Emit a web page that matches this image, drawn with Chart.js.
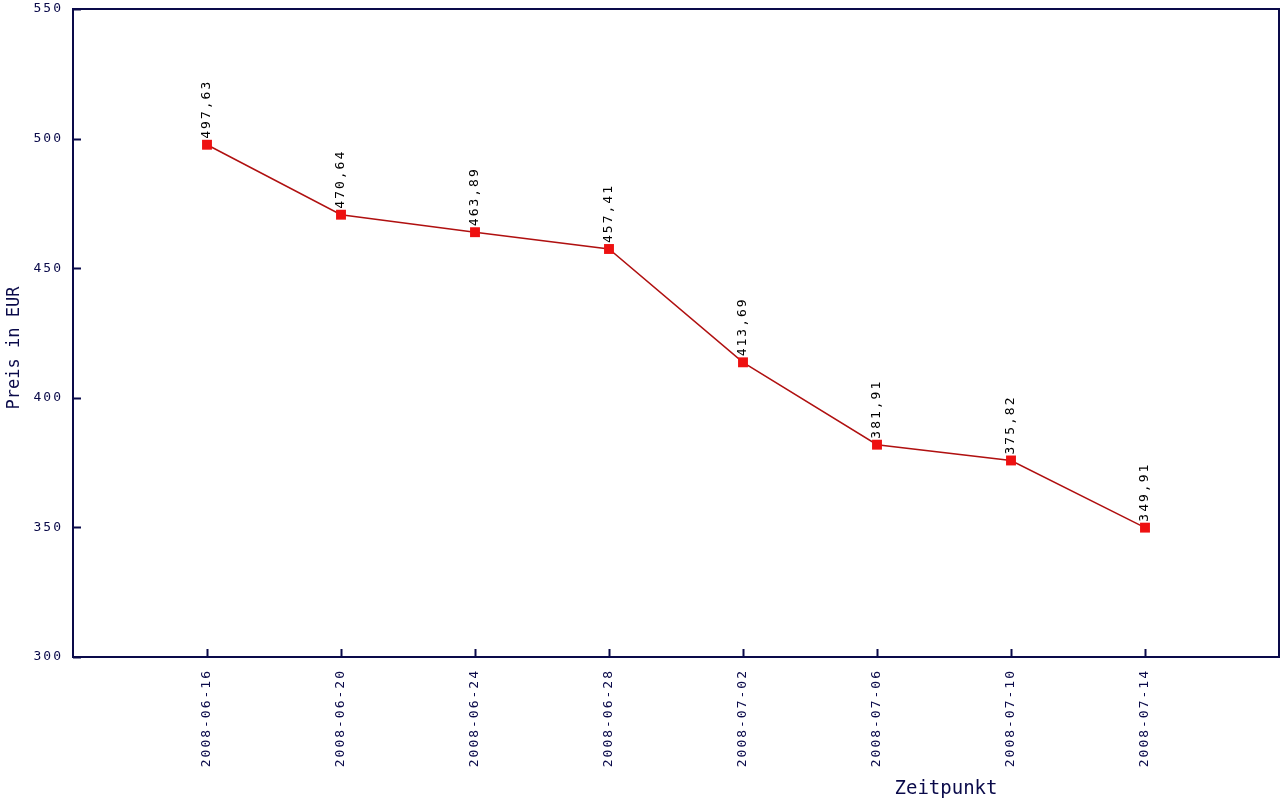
<!DOCTYPE html>
<html>
<head>
<meta charset="utf-8">
<script src="https://cdn.jsdelivr.net/npm/chart.js@4/dist/chart.umd.min.js"></script>
<style>
  html, body { margin: 0; padding: 0; background: #fff; }
  #wrap { width: 1280px; height: 800px; }
</style>
</head>
<body>
<div id="wrap"><canvas id="priceChart" width="1280" height="800"></canvas></div>
<script>
const dates = ["2008-06-16", "2008-06-20", "2008-06-24", "2008-06-28", "2008-07-02", "2008-07-06", "2008-07-10", "2008-07-14"];
const prices = [497.63, 470.64, 463.89, 457.41, 413.69, 381.91, 375.82, 349.91];
const priceLabels = ["497,63", "470,64", "463,89", "457,41", "413,69", "381,91", "375,82", "349,91"];
const yTicks = [300, 350, 400, 450, 500, 550];

const navy = "#0a0a4a";
const mono = "'DejaVu Sans Mono', 'Liberation Mono', monospace";

// wide letter spacing like the old bitmap font
const spacing = {
  id: "spacing",
  beforeDraw(chart) { chart.ctx.letterSpacing = "2px"; },
  afterDraw(chart) { chart.ctx.letterSpacing = "0px"; }
};

// frame, inward tick marks, value labels and axis titles
const decorations = {
  id: "decorations",
  afterDatasetsDraw(chart) {
    const ctx = chart.ctx;
    const area = chart.chartArea;
    const xs = chart.scales.x;
    const ys = chart.scales.y;
    ctx.save();
    ctx.strokeStyle = navy;
    ctx.lineWidth = 2;
    ctx.strokeRect(area.left, area.top, area.right - area.left, area.bottom - area.top);

    ctx.beginPath();
    yTicks.forEach(v => {
      const y = Math.round(ys.getPixelForValue(v)) + 0.5;
      ctx.moveTo(area.left, y);
      ctx.lineTo(area.left + 8, y);
    });
    dates.forEach((d, i) => {
      const x = Math.round(xs.getPixelForValue(i + 1)) + 0.5;
      ctx.moveTo(x, area.bottom);
      ctx.lineTo(x, area.bottom - 8);
    });
    ctx.stroke();

    // value labels above each point
    const meta = chart.getDatasetMeta(0);
    ctx.fillStyle = "#000";
    ctx.font = "13px " + mono;
    ctx.textAlign = "left";
    ctx.textBaseline = "middle";
    meta.data.forEach((pt, i) => {
      ctx.save();
      ctx.translate(pt.x, pt.y - 6);
      ctx.rotate(-Math.PI / 2);
      ctx.fillText(priceLabels[i], 0, 0);
      ctx.restore();
    });

    // axis titles
    ctx.letterSpacing = "0px";
    ctx.fillStyle = navy;
    ctx.font = "19px " + mono;
    ctx.textAlign = "center";
    ctx.textBaseline = "middle";
    ctx.fillText("Zeitpunkt", 946, 789);
    ctx.save();
    ctx.translate(15, 348);
    ctx.rotate(-Math.PI / 2);
    ctx.font = "17px " + mono;
    ctx.fillText("Preis in EUR", 0, 0);
    ctx.restore();
    ctx.restore();
  }
};

new Chart(document.getElementById("priceChart").getContext("2d"), {
  type: "line",
  data: {
    datasets: [{
      label: "Preis",
      data: prices.map((p, i) => ({ x: i + 1, y: p })),
      borderColor: "#b01010",
      borderWidth: 1.5,
      pointStyle: "rect",
      pointRadius: 7,
      pointBackgroundColor: "#ee1111",
      pointBorderColor: "#ee1111",
      pointBorderWidth: 0,
      tension: 0
    }]
  },
  options: {
    responsive: false,
    animation: false,
    layout: { autoPadding: false, padding: { top: 9, right: 1, left: 0, bottom: 0 } },
    plugins: {
      legend: { display: false },
      tooltip: { enabled: false }
    },
    scales: {
      x: {
        type: "linear",
        min: 0,
        max: 9,
        afterFit(scale) {
          scale.height = 143;
          scale.paddingLeft = 0;
          scale.paddingRight = 0;
        },
        afterBuildTicks(scale) {
          scale.ticks = dates.map((d, i) => ({ value: i + 1 }));
        },
        grid: { display: false },
        border: { display: false },
        ticks: {
          autoSkip: false,
          maxRotation: 90,
          minRotation: 90,
          padding: 4,
          color: navy,
          font: { family: mono, size: 13 },
          callback: (v) => dates[v - 1] || ""
        }
      },
      y: {
        min: 300,
        max: 550,
        afterFit(scale) {
          scale.width = 73;
          scale.paddingTop = 0;
          scale.paddingBottom = 0;
        },
        afterBuildTicks(scale) {
          scale.ticks = yTicks.map(v => ({ value: v }));
        },
        grid: { display: false },
        border: { display: false },
        ticks: {
          padding: 2,
          color: navy,
          font: { family: mono, size: 13 }
        }
      }
    }
  },
  plugins: [spacing, decorations]
});
</script>
</body>
</html>
